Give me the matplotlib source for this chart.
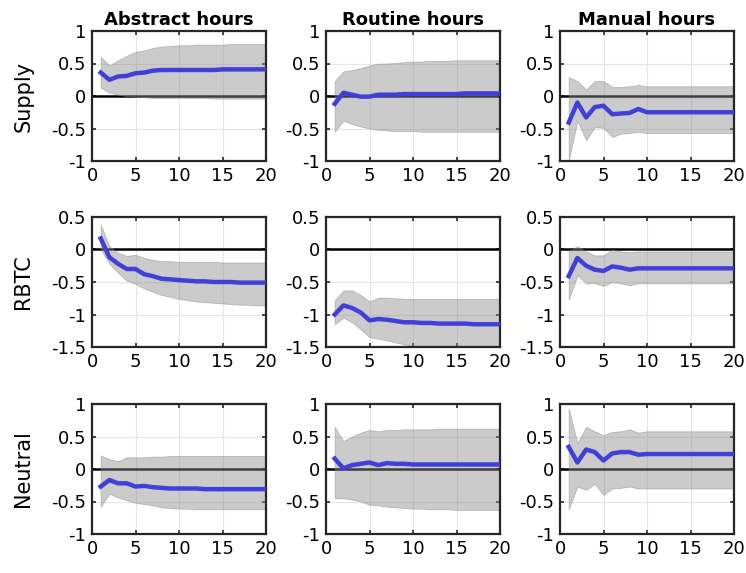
import numpy as np
import matplotlib
matplotlib.use("Agg")
from matplotlib import pyplot as plt

plt.rcParams['font.family'] = ['DejaVu Sans']
plt.rcParams['axes.unicode_minus'] = False

h = np.arange(1, 21)
cols = ['Abstract hours', 'Routine hours', 'Manual hours']
rows = ['Supply', 'RBTC', 'Neutral']

# Supply shock
sup_abs_mid = [0.36, 0.25, 0.30, 0.31, 0.35, 0.36, 0.39, 0.40, 0.40, 0.40,
               0.40, 0.40, 0.40, 0.40, 0.41, 0.41, 0.41, 0.41, 0.41, 0.41]
sup_abs_hi = [0.60, 0.47, 0.55, 0.62, 0.68, 0.70, 0.74, 0.76, 0.77, 0.78,
              0.78, 0.79, 0.79, 0.79, 0.79, 0.80, 0.80, 0.80, 0.80, 0.80]
sup_abs_lo = [0.13, 0.05, 0.02, 0.00, -0.01, -0.02, -0.03, -0.03, -0.03, -0.03,
              -0.03, -0.03, -0.03, -0.04, -0.04, -0.04, -0.04, -0.04, -0.04, -0.04]

sup_rou_mid = [-0.12, 0.05, 0.02, -0.01, -0.01, 0.02, 0.02, 0.02, 0.03, 0.03,
               0.03, 0.03, 0.03, 0.03, 0.03, 0.04, 0.04, 0.04, 0.04, 0.04]
sup_rou_hi = [0.23, 0.38, 0.40, 0.43, 0.47, 0.50, 0.50, 0.51, 0.52, 0.53,
              0.53, 0.54, 0.54, 0.54, 0.55, 0.55, 0.55, 0.55, 0.55, 0.55]
sup_rou_lo = [-0.55, -0.38, -0.43, -0.47, -0.50, -0.52, -0.53, -0.54, -0.54, -0.54,
              -0.55, -0.55, -0.55, -0.55, -0.55, -0.55, -0.55, -0.55, -0.55, -0.55]

sup_man_mid = [-0.41, -0.10, -0.33, -0.17, -0.15, -0.28, -0.27, -0.26, -0.20, -0.25,
               -0.25, -0.25, -0.25, -0.25, -0.25, -0.25, -0.25, -0.25, -0.25, -0.25]
sup_man_hi = [0.29, 0.23, 0.10, 0.23, 0.23, 0.14, 0.14, 0.15, 0.17, 0.15,
              0.15, 0.15, 0.15, 0.15, 0.15, 0.15, 0.15, 0.15, 0.15, 0.15]
sup_man_lo = [-1.00, -0.38, -0.68, -0.48, -0.49, -0.63, -0.58, -0.57, -0.55, -0.57,
              -0.57, -0.57, -0.57, -0.57, -0.57, -0.57, -0.57, -0.57, -0.57, -0.57]

# RBTC shock
rbtc_abs_mid = [0.17, -0.12, -0.22, -0.30, -0.30, -0.38, -0.41, -0.45, -0.46, -0.47,
                -0.48, -0.49, -0.49, -0.50, -0.50, -0.50, -0.51, -0.51, -0.51, -0.51]
rbtc_abs_hi = [0.38, 0.05, -0.05, -0.10, -0.08, -0.13, -0.16, -0.18, -0.18, -0.19,
               -0.19, -0.19, -0.19, -0.19, -0.20, -0.20, -0.20, -0.20, -0.20, -0.20]
rbtc_abs_lo = [0.00, -0.22, -0.36, -0.48, -0.53, -0.60, -0.65, -0.70, -0.73, -0.76,
               -0.78, -0.80, -0.81, -0.82, -0.83, -0.84, -0.85, -0.85, -0.86, -0.86]

rbtc_rou_mid = [-1.00, -0.86, -0.90, -0.97, -1.09, -1.07, -1.08, -1.10, -1.12, -1.12,
                -1.13, -1.13, -1.14, -1.14, -1.14, -1.14, -1.15, -1.15, -1.15, -1.15]
rbtc_rou_hi = [-0.78, -0.63, -0.63, -0.70, -0.80, -0.74, -0.74, -0.75, -0.76, -0.76,
               -0.76, -0.76, -0.76, -0.76, -0.76, -0.76, -0.76, -0.76, -0.76, -0.76]
rbtc_rou_lo = [-1.15, -1.05, -1.12, -1.23, -1.35, -1.37, -1.40, -1.43, -1.46, -1.48,
               -1.50, -1.51, -1.52, -1.53, -1.53, -1.54, -1.54, -1.54, -1.55, -1.55]

rbtc_man_mid = [-0.41, -0.13, -0.25, -0.31, -0.33, -0.26, -0.28, -0.31, -0.29, -0.29,
                -0.29, -0.29, -0.29, -0.29, -0.29, -0.29, -0.29, -0.29, -0.29, -0.29]
rbtc_man_hi = [-0.02, 0.05, -0.03, -0.09, -0.09, 0.00, -0.03, -0.04, -0.03, -0.03,
               -0.03, -0.03, -0.03, -0.03, -0.03, -0.03, -0.03, -0.03, -0.03, -0.03]
rbtc_man_lo = [-0.77, -0.40, -0.52, -0.52, -0.56, -0.50, -0.52, -0.55, -0.52, -0.52,
               -0.52, -0.52, -0.52, -0.52, -0.52, -0.52, -0.52, -0.52, -0.52, -0.52]

# Neutral shock
neu_abs_mid = [-0.27, -0.17, -0.22, -0.22, -0.27, -0.26, -0.28, -0.29, -0.30, -0.30,
               -0.30, -0.30, -0.31, -0.31, -0.31, -0.31, -0.31, -0.31, -0.31, -0.31]
neu_abs_hi = [0.21, 0.15, 0.12, 0.18, 0.18, 0.18, 0.19, 0.19, 0.20, 0.20,
              0.20, 0.20, 0.20, 0.20, 0.20, 0.20, 0.20, 0.20, 0.20, 0.20]
neu_abs_lo = [-0.58, -0.38, -0.44, -0.48, -0.52, -0.54, -0.56, -0.59, -0.60, -0.61,
              -0.61, -0.62, -0.62, -0.62, -0.62, -0.62, -0.62, -0.62, -0.62, -0.62]

neu_rou_mid = [0.16, 0.01, 0.06, 0.08, 0.10, 0.06, 0.09, 0.08, 0.08, 0.07,
               0.07, 0.07, 0.07, 0.07, 0.07, 0.07, 0.07, 0.07, 0.07, 0.07]
neu_rou_hi = [0.65, 0.43, 0.50, 0.56, 0.60, 0.58, 0.60, 0.60, 0.61, 0.61,
              0.61, 0.61, 0.62, 0.62, 0.62, 0.62, 0.62, 0.62, 0.62, 0.62]
neu_rou_lo = [-0.45, -0.45, -0.47, -0.50, -0.55, -0.56, -0.58, -0.59, -0.60, -0.61,
              -0.61, -0.62, -0.62, -0.62, -0.63, -0.63, -0.63, -0.63, -0.63, -0.63]

neu_man_mid = [0.34, 0.10, 0.30, 0.26, 0.13, 0.24, 0.26, 0.26, 0.22, 0.23,
               0.23, 0.23, 0.23, 0.23, 0.23, 0.23, 0.23, 0.23, 0.23, 0.23]
neu_man_hi = [0.93, 0.40, 0.65, 0.58, 0.52, 0.57, 0.58, 0.61, 0.56, 0.58,
              0.58, 0.58, 0.58, 0.58, 0.58, 0.58, 0.58, 0.58, 0.58, 0.58]
neu_man_lo = [-0.62, -0.27, -0.32, -0.23, -0.40, -0.30, -0.29, -0.27, -0.30, -0.30,
              -0.30, -0.30, -0.30, -0.30, -0.30, -0.30, -0.30, -0.30, -0.30, -0.30]

panels = [
    [(sup_abs_lo, sup_abs_mid, sup_abs_hi), (sup_rou_lo, sup_rou_mid, sup_rou_hi), (sup_man_lo, sup_man_mid, sup_man_hi)],
    [(rbtc_abs_lo, rbtc_abs_mid, rbtc_abs_hi), (rbtc_rou_lo, rbtc_rou_mid, rbtc_rou_hi), (rbtc_man_lo, rbtc_man_mid, rbtc_man_hi)],
    [(neu_abs_lo, neu_abs_mid, neu_abs_hi), (neu_rou_lo, neu_rou_mid, neu_rou_hi), (neu_man_lo, neu_man_mid, neu_man_hi)],
]
ylims = [(-1, 1), (-1.5, 0.5), (-1, 1)]
yticks = [[-1, -0.5, 0, 0.5, 1], [-1.5, -1, -0.5, 0, 0.5], [-1, -0.5, 0, 0.5, 1]]

W, H = 746, 573
fig = plt.figure(figsize=(W / 100, H / 100), dpi=100)
lefts = [92, 326, 560]
tops = [31, 217, 404]
aw, ah = 174, 130

def fmt(v):
    return '%g' % v

for i in range(3):
    for j in range(3):
        ax = fig.add_axes([lefts[j] / W, 1 - (tops[i] + ah) / H, aw / W, ah / H])
        lo, mid, hi = panels[i][j]
        ax.axhline(0, color='black', lw=1.8, zorder=1)
        ax.fill_between(h, lo, hi, color=(0.55, 0.55, 0.55), alpha=0.45,
                        edgecolor=(0.5, 0.5, 0.5), lw=0.6, zorder=2)
        ax.plot(h, mid, color=(0.25, 0.25, 0.85), lw=3.2, zorder=3)
        ax.set_xlim(0, 20)
        ax.set_ylim(*ylims[i])
        ax.set_xticks([0, 5, 10, 15, 20])
        ax.set_yticks(yticks[i])
        ax.set_yticklabels([fmt(v) for v in yticks[i]])
        ax.grid(True, color=(0.9, 0.9, 0.9), lw=0.8, zorder=0)
        ax.set_axisbelow(True)
        ax.tick_params(direction='in', top=True, right=True, labelsize=13,
                       length=3, width=1.2, colors=(0.15, 0.15, 0.15),
                       labelcolor='black', pad=4)
        for s in ax.spines.values():
            s.set_linewidth(1.6)
            s.set_color((0.15, 0.15, 0.15))
        if i == 0:
            ax.set_title(cols[j], fontsize=13, fontweight='bold', pad=4)
        if j == 0:
            ax.set_ylabel(rows[i], fontsize=15, labelpad=13)

fig.savefig('out.png', dpi=100)
